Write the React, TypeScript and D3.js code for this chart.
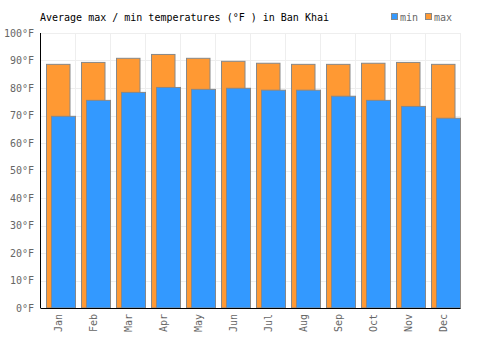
import React from "react";
import * as d3 from "d3";

const months = ["Jan", "Feb", "Mar", "Apr", "May", "Jun", "Jul", "Aug", "Sep", "Oct", "Nov", "Dec"];
const maxTemps = [88.6, 89.3, 90.8, 92.2, 90.8, 89.7, 89.0, 88.6, 88.6, 89.0, 89.3, 88.6];
const minTemps = [69.7, 75.5, 78.4, 80.2, 79.5, 79.9, 79.2, 79.2, 77.0, 75.5, 73.3, 69.0];
const yTicks = [0, 10, 20, 30, 40, 50, 60, 70, 80, 90, 100];

const W = 500, H = 350;
const left = 40.5, right = 460.5, top = 33, bottom = 308;
const font = "'DejaVu Sans Mono', monospace";

export default function App() {
  const x = d3.scaleBand<string>().domain(months).range([left, right]);
  const y = d3.scaleLinear().domain([0, 100]).range([bottom, top]);
  const bw = x.bandwidth();

  return (
    <svg width={W} height={H} style={{ position: "absolute", left: 0, top: 0 }} fontFamily={font}>
      <rect width={W} height={H} fill="#fff" />
      {/* grid */}
      {yTicks.map((t) => (
        <line key={"h" + t} x1={left} x2={right} y1={Math.round(y(t)) + 0.5} y2={Math.round(y(t)) + 0.5} stroke="#eeeeee" />
      ))}
      {months.map((m, i) => (
        <line key={"v" + m} x1={x(m)! + bw} x2={x(m)! + bw} y1={top} y2={bottom} stroke="#eeeeee" />
      ))}
      {/* bars */}
      {months.map((m, i) => {
        const x0 = x(m)!;
        return (
          <g key={"b" + m}>
            <rect x={x0 + 6} y={y(maxTemps[i])} width={23.5} height={bottom - y(maxTemps[i])} fill="#ff9933" stroke="#888" strokeWidth={1} />
            <rect x={x0 + 11} y={y(minTemps[i])} width={24} height={bottom - y(minTemps[i])} fill="#3399ff" stroke="#888" strokeWidth={1} />
          </g>
        );
      })}
      {/* axes */}
      <line x1={left} x2={left} y1={top} y2={bottom} stroke="#000" />
      <line x1={left} x2={right} y1={bottom + 0.5} y2={bottom + 0.5} stroke="#000" />
      {yTicks.map((t) => (
        <text key={"yt" + t} x={34} y={y(t)} dy="0.35em" textAnchor="end" fontSize={10} fill="#666">
          {t}°F
        </text>
      ))}
      {months.map((m) => (
        <text
          key={"xt" + m}
          transform={`translate(${x(m)! + bw / 2},314) rotate(-90)`}
          dy="0.35em"
          textAnchor="end"
          fontSize={10}
          fill="#666"
        >
          {m}
        </text>
      ))}
      {/* title */}
      <text x={40} y={20.5} fontSize={10} fill="#000">
        Average max / min temperatures (°F ) in Ban Khai
      </text>
      {/* legend */}
      <rect x={391.5} y={13.5} width={6} height={6} fill="#3399ff" stroke="#888" />
      <text x={400} y={20.5} fontSize={10} fill="#666">min</text>
      <rect x={425.5} y={13.5} width={6} height={6} fill="#ff9933" stroke="#888" />
      <text x={434} y={20.5} fontSize={10} fill="#666">max</text>
    </svg>
  );
}
